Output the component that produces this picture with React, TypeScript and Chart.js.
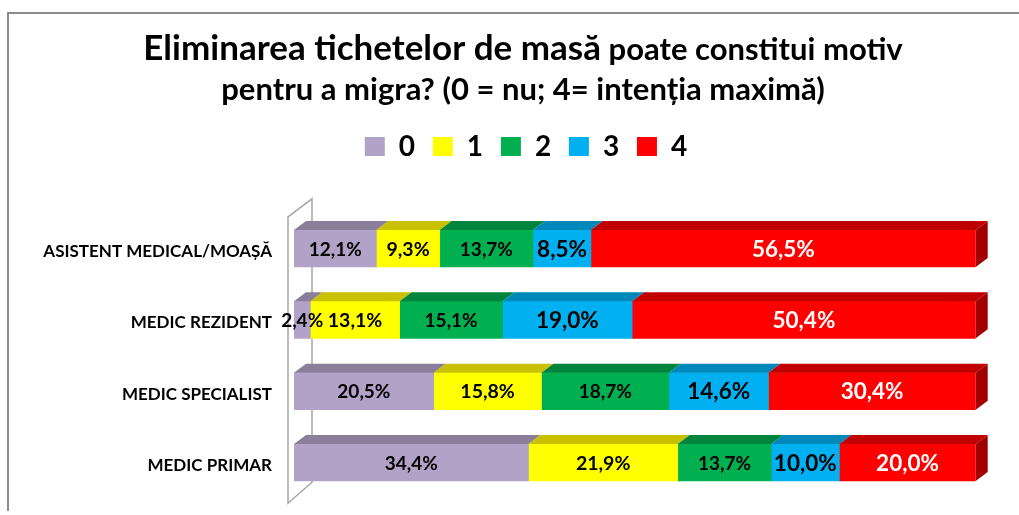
import React, { useEffect, useRef } from 'react';
import { Chart, registerables } from 'chart.js';

Chart.register(...registerables);

const categories = ['ASISTENT MEDICAL/MOAȘĂ', 'MEDIC REZIDENT', 'MEDIC SPECIALIST', 'MEDIC PRIMAR'];
const seriesLabels = ['0', '1', '2', '3', '4'];
const score0 = [12.1, 2.4, 20.5, 34.4];
const score1 = [9.3, 13.1, 15.8, 21.9];
const score2 = [13.7, 15.1, 18.7, 13.7];
const score3 = [8.5, 19.0, 14.6, 10.0];
const score4 = [56.5, 50.4, 30.4, 20.0];
const titleMain = 'Eliminarea tichetelor de masă';
const titleRest = ' poate constitui motiv';
const titleLine2 = 'pentru a migra? (0 = nu; 4= intenția maximă)';

const frontColors = ['#B3A2C7', '#FFFF00', '#00B050', '#00B0F0', '#FF0000'];
const topColors = ['#8B7E9B', '#C8C000', '#00843C', '#0088BA', '#C00000'];
const sideColor = '#A00000';
const labelSizes = [19, 19.5, 19, 22.5, 22.5];
const labelColors = ['#000', '#000', '#000', '#000', '#fff'];
const FONT = 'Lato';

const seriesValues = [score0, score1, score2, score3, score4];
const rowTotals = categories.map((_, i) => seriesValues.reduce((s, arr) => s + arr[i], 0));

const DX = 12;
const DY = 9;

const fmt = (v: number) => v.toFixed(1).replace('.', ',') + '%';

const wallPlugin = {
  id: 'wall3d',
  beforeDatasetsDraw(chart: any) {
    const { ctx, chartArea } = chart;
    const { left, top, bottom } = chartArea;
    ctx.save();
    ctx.strokeStyle = '#a6a6a6';
    ctx.lineWidth = 1.5;
    ctx.beginPath();
    ctx.moveTo(left - 6, bottom + 5);
    ctx.lineTo(left - 6, top + 4);
    ctx.lineTo(left + 18, top - 14);
    ctx.lineTo(left + 18, bottom - 16);
    ctx.closePath();
    ctx.stroke();
    ctx.restore();
  },
};

const depthPlugin = {
  id: 'depth3d',
  afterDatasetsDraw(chart: any) {
    const { ctx } = chart;
    const n = chart.data.datasets.length;
    ctx.save();
    for (let d = 0; d < n; d++) {
      const meta = chart.getDatasetMeta(d);
      meta.data.forEach((el: any) => {
        const { x, y, base, height } = el.getProps(['x', 'y', 'base', 'height'], true);
        const x0 = Math.min(x, base);
        const x1 = Math.max(x, base);
        const yt = y - height / 2;
        const yb = y + height / 2;
        ctx.fillStyle = topColors[d];
        ctx.beginPath();
        ctx.moveTo(x0, yt);
        ctx.lineTo(x1, yt);
        ctx.lineTo(x1 + DX, yt - DY);
        ctx.lineTo(x0 + DX, yt - DY);
        ctx.closePath();
        ctx.fill();
        if (d === n - 1) {
          ctx.fillStyle = sideColor;
          ctx.beginPath();
          ctx.moveTo(x1, yt);
          ctx.lineTo(x1 + DX, yt - DY);
          ctx.lineTo(x1 + DX, yb - DY);
          ctx.lineTo(x1, yb);
          ctx.closePath();
          ctx.fill();
        }
      });
    }
    ctx.restore();
  },
};

const labelPlugin = {
  id: 'barLabels',
  afterDatasetsDraw(chart: any) {
    const { ctx } = chart;
    ctx.save();
    ctx.textAlign = 'center';
    ctx.textBaseline = 'middle';
    chart.data.datasets.forEach((ds: any, d: number) => {
      const meta = chart.getDatasetMeta(d);
      meta.data.forEach((el: any, i: number) => {
        const { x, y, base } = el.getProps(['x', 'y', 'base'], true);
        ctx.font = `bold ${labelSizes[d]}px ${FONT}`;
        ctx.fillStyle = labelColors[d];
        ctx.fillText(fmt(ds.rawValues[i]), (x + base) / 2, y + 1);
      });
    });
    ctx.restore();
  },
};

const titlePlugin = {
  id: 'mixedTitle',
  afterDraw(chart: any) {
    const { ctx } = chart;
    const cx = 514;
    ctx.save();
    ctx.fillStyle = '#000';
    ctx.textBaseline = 'alphabetic';
    ctx.textAlign = 'left';
    const bigFont = `bold 35px ${FONT}`;
    const smallFont = `bold 31px ${FONT}`;
    ctx.font = bigFont;
    const w1 = ctx.measureText(titleMain).width;
    ctx.font = smallFont;
    const w2 = ctx.measureText(titleRest).width;
    const sx = cx - (w1 + w2) / 2;
    ctx.font = bigFont;
    ctx.fillText(titleMain, sx, 46);
    ctx.font = smallFont;
    ctx.fillText(titleRest, sx + w1, 46);
    ctx.textAlign = 'center';
    ctx.fillText(titleLine2, cx, 86);
    ctx.restore();
  },
};

const layoutTweaks = {
  id: 'layoutTweaks',
  beforeInit(chart: any) {
    const legend = chart.legend;
    if (!legend) return;
    const orig = legend.fit;
    legend.fit = function () {
      orig.call(this);
      this.height += 42.3;
    };
  },
  afterLayout(chart: any) {
    const y = chart.scales.y;
    if (y) y._computeLabelArea = () => undefined;
  },
};

export default function App() {
  const ref = useRef<HTMLCanvasElement>(null);
  useEffect(() => {
    document.documentElement.style.overflow = 'hidden';
    const datasets = seriesLabels.map((label, d) => ({
      label,
      data: seriesValues[d].map((v, i) => (v / rowTotals[i]) * 100),
      rawValues: seriesValues[d],
      backgroundColor: frontColors[d],
      borderWidth: 0,
      barThickness: 37,
    }));
    const chart = new Chart(ref.current!, {
      type: 'bar',
      data: { labels: categories, datasets },
      options: {
        indexAxis: 'y',
        animation: false,
        responsive: false,
        layout: { padding: { top: 100.7, left: 67.3, right: 43.3, bottom: 12.8 } },
        scales: {
          x: { stacked: true, min: 0, max: 100, display: false },
          y: {
            stacked: true,
            grid: { display: false, drawTicks: false },
            border: { display: false },
            ticks: {
              color: '#000',
              font: { family: FONT, weight: 'bold', size: 17 },
              padding: 22,
              labelOffset: 3,
            },
            afterFit(scale: any) {
              scale.width = 217.7;
              scale.paddingTop = 0;
              scale.paddingBottom = 0;
            },
          },
        },
        plugins: {
          legend: {
            position: 'top',
            labels: {
              boxWidth: 20,
              boxHeight: 19,
              padding: 17.8,
              color: '#000',
              font: { family: FONT, weight: 'bold', size: 28 },
            },
          },
          title: { display: false },
          tooltip: { enabled: false },
        },
      } as any,
      plugins: [layoutTweaks, wallPlugin, depthPlugin, labelPlugin, titlePlugin],
    });
    return () => chart.destroy();
  }, []);
  return (
    <div
      style={{
        position: 'absolute',
        left: 7,
        top: 12,
        width: 1010,
        height: 497,
        borderTop: '2px solid #8c8c8c',
        borderLeft: '2px solid #8c8c8c',
      }}
    >
      <canvas ref={ref} width={1010} height={497} style={{ display: 'block' }} />
    </div>
  );
}
